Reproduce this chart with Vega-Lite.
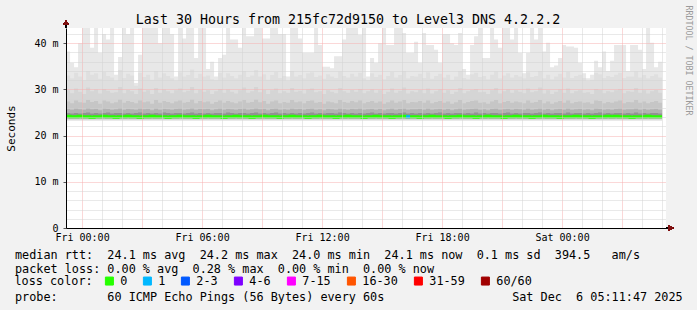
{
  "$schema": "https://vega.github.io/schema/vega-lite/v6.json",
  "width": 600,
  "height": 200,
  "autosize": {"type": "none"},
  "padding": {"left": 66, "top": 28, "right": 31, "bottom": 82},
  "background": "#f2f2f2",
  "title": {"text": "Last 30 Hours from 215fc72d9150 to Level3 DNS 4.2.2.2", "font": "DejaVu Sans Mono", "fontSize": 13.3, "fontWeight": "normal", "color": "#000000", "anchor": "middle", "frame": "group", "dx": -18, "dy": 21, "offset": 0},
  "config": {"view": {"fill": "#ffffff", "stroke": null}, "font": "DejaVu Sans Mono"},
  "data": {"values": [
    {"t":"2025-12-04T23:12Z","m":24.2,"a":24.9,"b":25.8,"c":27.4,"d":29.8,"e":33.0,"x":38.2},
    {"t":"2025-12-04T23:24Z","m":24.1,"a":24.8,"b":25.6,"c":27.0,"d":29.2,"e":32.4,"x":35.7},
    {"t":"2025-12-04T23:36Z","m":24.1,"a":24.9,"b":25.9,"c":27.6,"d":30.2,"e":33.6,"x":34.8},
    {"t":"2025-12-04T23:48Z","m":24.2,"a":24.8,"b":25.7,"c":27.2,"d":29.5,"e":32.8,"x":40},
    {"t":"2025-12-05T00:00Z","m":24.1,"a":24.9,"b":25.6,"c":27.1,"d":29.0,"e":32.0,"x":45},
    {"t":"2025-12-05T00:12Z","m":24.1,"a":25.0,"b":26.0,"c":27.7,"d":30.4,"e":34.0,"x":45},
    {"t":"2025-12-05T00:24Z","m":24.0,"a":24.8,"b":25.7,"c":27.3,"d":29.6,"e":33.2,"x":39.0},
    {"t":"2025-12-05T00:36Z","m":24.1,"a":24.9,"b":25.8,"c":27.5,"d":30.0,"e":33.5,"x":45},
    {"t":"2025-12-05T00:48Z","m":24.1,"a":24.8,"b":25.5,"c":26.9,"d":29.1,"e":32.3,"x":37.9},
    {"t":"2025-12-05T01:00Z","m":24.2,"a":24.9,"b":25.9,"c":27.6,"d":30.1,"e":33.8,"x":42},
    {"t":"2025-12-05T01:12Z","m":24.1,"a":25.0,"b":25.8,"c":27.4,"d":29.7,"e":32.9,"x":40.8},
    {"t":"2025-12-05T01:24Z","m":24.1,"a":24.8,"b":25.6,"c":27.0,"d":29.3,"e":32.6,"x":45},
    {"t":"2025-12-05T01:36Z","m":24.0,"a":24.9,"b":25.7,"c":27.2,"d":29.4,"e":31.8,"x":33.2},
    {"t":"2025-12-05T01:48Z","m":24.1,"a":24.9,"b":26.0,"c":27.8,"d":30.5,"e":34.2,"x":37},
    {"t":"2025-12-05T02:00Z","m":24.1,"a":24.8,"b":25.6,"c":27.1,"d":29.2,"e":32.5,"x":45},
    {"t":"2025-12-05T02:12Z","m":24.2,"a":24.9,"b":25.8,"c":27.5,"d":29.9,"e":33.4,"x":42},
    {"t":"2025-12-05T02:24Z","m":24.1,"a":24.8,"b":25.7,"c":27.3,"d":29.6,"e":33.0,"x":45},
    {"t":"2025-12-05T02:36Z","m":24.1,"a":24.9,"b":25.6,"c":27.0,"d":29.0,"e":30.8,"x":31.4},
    {"t":"2025-12-05T02:48Z","m":24.0,"a":25.0,"b":25.9,"c":27.6,"d":30.2,"e":33.6,"x":37.5},
    {"t":"2025-12-05T03:00Z","m":24.1,"a":24.8,"b":25.7,"c":27.2,"d":29.5,"e":32.7,"x":45},
    {"t":"2025-12-05T03:12Z","m":24.1,"a":24.9,"b":25.8,"c":27.4,"d":29.8,"e":33.2,"x":45},
    {"t":"2025-12-05T03:24Z","m":24.2,"a":24.8,"b":25.5,"c":26.9,"d":29.0,"e":32.1,"x":44},
    {"t":"2025-12-05T03:36Z","m":24.1,"a":24.9,"b":25.9,"c":27.7,"d":30.3,"e":34.0,"x":45},
    {"t":"2025-12-05T03:48Z","m":24.1,"a":24.8,"b":25.6,"c":27.1,"d":29.3,"e":32.6,"x":40},
    {"t":"2025-12-05T04:00Z","m":24.1,"a":25.0,"b":25.8,"c":27.5,"d":30.0,"e":33.5,"x":45},
    {"t":"2025-12-05T04:12Z","m":24.0,"a":24.9,"b":25.7,"c":27.3,"d":29.6,"e":32.9,"x":45},
    {"t":"2025-12-05T04:24Z","m":24.1,"a":24.8,"b":25.6,"c":27.0,"d":29.2,"e":32.4,"x":42},
    {"t":"2025-12-05T04:36Z","m":24.1,"a":24.9,"b":25.8,"c":27.4,"d":29.8,"e":31.9,"x":32.8},
    {"t":"2025-12-05T04:48Z","m":24.2,"a":24.9,"b":25.9,"c":27.6,"d":30.2,"e":33.7,"x":45},
    {"t":"2025-12-05T05:00Z","m":24.1,"a":24.8,"b":25.6,"c":27.1,"d":29.4,"e":32.8,"x":41},
    {"t":"2025-12-05T05:12Z","m":24.1,"a":24.9,"b":25.7,"c":27.3,"d":29.7,"e":33.1,"x":45},
    {"t":"2025-12-05T05:24Z","m":24.1,"a":25.0,"b":26.0,"c":27.8,"d":30.5,"e":34.3,"x":45},
    {"t":"2025-12-05T05:36Z","m":24.0,"a":24.8,"b":25.6,"c":27.0,"d":29.2,"e":32.5,"x":36.8},
    {"t":"2025-12-05T05:48Z","m":24.1,"a":24.9,"b":25.8,"c":27.5,"d":29.9,"e":33.4,"x":45},
    {"t":"2025-12-05T06:00Z","m":24.1,"a":24.8,"b":25.7,"c":27.2,"d":29.5,"e":32.8,"x":45},
    {"t":"2025-12-05T06:12Z","m":24.2,"a":24.9,"b":25.8,"c":27.4,"d":29.8,"e":33.0,"x":34.4},
    {"t":"2025-12-05T06:24Z","m":24.1,"a":24.8,"b":25.5,"c":26.9,"d":29.0,"e":32.2,"x":36},
    {"t":"2025-12-05T06:36Z","m":24.1,"a":24.9,"b":25.7,"c":27.3,"d":29.6,"e":32.0,"x":32.8},
    {"t":"2025-12-05T06:48Z","m":24.1,"a":24.9,"b":25.9,"c":27.6,"d":30.1,"e":33.6,"x":36.8},
    {"t":"2025-12-05T07:00Z","m":24.0,"a":24.8,"b":25.6,"c":27.1,"d":29.3,"e":32.6,"x":37.5},
    {"t":"2025-12-05T07:12Z","m":24.1,"a":25.0,"b":25.8,"c":27.5,"d":30.0,"e":33.5,"x":45},
    {"t":"2025-12-05T07:24Z","m":24.1,"a":24.9,"b":25.7,"c":27.2,"d":29.5,"e":32.9,"x":40.8},
    {"t":"2025-12-05T07:36Z","m":24.2,"a":24.8,"b":25.6,"c":27.0,"d":29.1,"e":32.4,"x":40.8},
    {"t":"2025-12-05T07:48Z","m":24.1,"a":24.9,"b":25.8,"c":27.4,"d":29.8,"e":33.2,"x":39},
    {"t":"2025-12-05T08:00Z","m":24.1,"a":24.9,"b":25.9,"c":27.7,"d":30.4,"e":34.0,"x":45},
    {"t":"2025-12-05T08:12Z","m":24.1,"a":24.8,"b":25.6,"c":27.1,"d":29.3,"e":32.7,"x":41.5},
    {"t":"2025-12-05T08:24Z","m":24.0,"a":24.9,"b":25.7,"c":27.3,"d":29.6,"e":33.0,"x":41.5},
    {"t":"2025-12-05T08:36Z","m":24.1,"a":25.0,"b":26.0,"c":27.8,"d":30.5,"e":34.2,"x":45},
    {"t":"2025-12-05T08:48Z","m":24.1,"a":24.8,"b":25.7,"c":27.2,"d":29.4,"e":32.8,"x":45},
    {"t":"2025-12-05T09:00Z","m":24.2,"a":24.9,"b":25.8,"c":27.5,"d":29.9,"e":33.3,"x":41},
    {"t":"2025-12-05T09:12Z","m":24.1,"a":24.8,"b":25.5,"c":26.9,"d":29.0,"e":32.1,"x":41},
    {"t":"2025-12-05T09:24Z","m":24.1,"a":24.9,"b":25.8,"c":27.4,"d":29.8,"e":33.1,"x":45},
    {"t":"2025-12-05T09:36Z","m":24.1,"a":25.0,"b":25.9,"c":27.6,"d":30.2,"e":33.8,"x":45},
    {"t":"2025-12-05T09:48Z","m":24.0,"a":24.8,"b":25.6,"c":27.0,"d":29.2,"e":32.5,"x":42},
    {"t":"2025-12-05T10:00Z","m":24.1,"a":24.9,"b":25.7,"c":27.3,"d":29.6,"e":32.9,"x":42},
    {"t":"2025-12-05T10:12Z","m":24.1,"a":24.8,"b":25.6,"c":27.1,"d":29.3,"e":31.9,"x":32.8},
    {"t":"2025-12-05T10:24Z","m":24.2,"a":24.9,"b":25.9,"c":27.7,"d":30.3,"e":34.0,"x":45},
    {"t":"2025-12-05T10:36Z","m":24.1,"a":24.8,"b":25.7,"c":27.2,"d":29.5,"e":32.8,"x":45},
    {"t":"2025-12-05T10:48Z","m":24.1,"a":24.9,"b":25.8,"c":27.4,"d":29.7,"e":33.1,"x":41},
    {"t":"2025-12-05T11:00Z","m":24.1,"a":24.8,"b":25.6,"c":27.0,"d":29.1,"e":32.4,"x":37.9},
    {"t":"2025-12-05T11:12Z","m":24.0,"a":24.9,"b":25.8,"c":27.5,"d":30.0,"e":33.5,"x":37.9},
    {"t":"2025-12-05T11:24Z","m":24.1,"a":25.0,"b":25.9,"c":27.6,"d":30.2,"e":33.7,"x":37.9},
    {"t":"2025-12-05T11:36Z","m":24.1,"a":24.8,"b":25.6,"c":27.1,"d":29.4,"e":32.7,"x":45},
    {"t":"2025-12-05T11:48Z","m":24.2,"a":24.9,"b":25.7,"c":27.3,"d":29.6,"e":33.0,"x":39.6},
    {"t":"2025-12-05T12:00Z","m":24.1,"a":24.8,"b":25.5,"c":26.9,"d":29.0,"e":32.3,"x":34.9},
    {"t":"2025-12-05T12:12Z","m":24.1,"a":24.9,"b":25.8,"c":27.4,"d":29.8,"e":33.3,"x":34.9},
    {"t":"2025-12-05T12:24Z","m":24.1,"a":24.9,"b":25.7,"c":27.2,"d":29.5,"e":32.8,"x":34.6},
    {"t":"2025-12-05T12:36Z","m":24.0,"a":24.8,"b":25.6,"c":27.0,"d":29.2,"e":32.5,"x":37.2},
    {"t":"2025-12-05T12:48Z","m":24.1,"a":25.0,"b":25.9,"c":27.7,"d":30.3,"e":33.9,"x":37.2},
    {"t":"2025-12-05T13:00Z","m":24.1,"a":24.9,"b":25.7,"c":27.3,"d":29.6,"e":32.9,"x":40.8},
    {"t":"2025-12-05T13:12Z","m":24.2,"a":24.8,"b":25.6,"c":27.1,"d":29.3,"e":32.6,"x":45},
    {"t":"2025-12-05T13:24Z","m":24.1,"a":24.9,"b":25.8,"c":27.5,"d":29.9,"e":33.4,"x":45},
    {"t":"2025-12-05T13:36Z","m":24.1,"a":24.8,"b":25.7,"c":27.2,"d":29.5,"e":32.8,"x":45},
    {"t":"2025-12-05T13:48Z","m":24.1,"a":24.9,"b":25.9,"c":27.6,"d":30.1,"e":33.6,"x":41.8},
    {"t":"2025-12-05T14:00Z","m":24.0,"a":24.8,"b":25.6,"c":27.0,"d":29.2,"e":32.4,"x":45},
    {"t":"2025-12-05T14:12Z","m":24.1,"a":24.9,"b":25.7,"c":27.3,"d":29.6,"e":32.0,"x":32.8},
    {"t":"2025-12-05T14:24Z","m":24.1,"a":25.0,"b":25.8,"c":27.5,"d":30.0,"e":33.5,"x":36.8},
    {"t":"2025-12-05T14:36Z","m":24.2,"a":24.8,"b":25.6,"c":27.1,"d":29.3,"e":32.7,"x":35.7},
    {"t":"2025-12-05T14:48Z","m":24.1,"a":24.9,"b":25.8,"c":27.4,"d":29.8,"e":33.2,"x":40},
    {"t":"2025-12-05T15:00Z","m":24.1,"a":24.8,"b":25.5,"c":26.9,"d":29.0,"e":32.2,"x":45},
    {"t":"2025-12-05T15:12Z","m":24.1,"a":24.9,"b":25.7,"c":27.2,"d":29.5,"e":32.9,"x":39.6},
    {"t":"2025-12-05T15:24Z","m":24.0,"a":24.9,"b":25.9,"c":27.6,"d":30.2,"e":33.8,"x":39.6},
    {"t":"2025-12-05T15:36Z","m":24.1,"a":24.8,"b":25.6,"c":27.1,"d":29.3,"e":32.6,"x":45},
    {"t":"2025-12-05T15:48Z","m":24.1,"a":24.9,"b":25.8,"c":27.4,"d":29.7,"e":33.1,"x":45},
    {"t":"2025-12-05T16:00Z","m":24.2,"a":25.0,"b":25.9,"c":27.7,"d":30.4,"e":34.0,"x":42.2},
    {"t":"2025-12-05T16:12Z","m":24.1,"a":24.8,"b":25.6,"c":27.0,"d":29.1,"e":32.4,"x":37.9},
    {"t":"2025-12-05T16:24Z","m":24.1,"a":24.9,"b":25.7,"c":27.3,"d":29.6,"e":32.9,"x":37.9},
    {"t":"2025-12-05T16:36Z","m":24.1,"a":24.8,"b":25.7,"c":27.2,"d":29.4,"e":32.8,"x":40.3},
    {"t":"2025-12-05T16:48Z","m":24.0,"a":24.9,"b":25.8,"c":27.5,"d":29.9,"e":33.4,"x":35.7},
    {"t":"2025-12-05T17:00Z","m":24.1,"a":24.8,"b":25.6,"c":27.1,"d":29.2,"e":32.5,"x":42.2},
    {"t":"2025-12-05T17:12Z","m":24.1,"a":24.9,"b":25.9,"c":27.6,"d":30.2,"e":33.7,"x":39.6},
    {"t":"2025-12-05T17:24Z","m":24.2,"a":24.8,"b":25.6,"c":27.0,"d":29.1,"e":32.3,"x":39.6},
    {"t":"2025-12-05T17:36Z","m":24.1,"a":24.9,"b":25.7,"c":27.3,"d":29.6,"e":32.9,"x":38.6},
    {"t":"2025-12-05T17:48Z","m":24.1,"a":25.0,"b":25.8,"c":27.5,"d":30.0,"e":33.4,"x":35.7},
    {"t":"2025-12-05T18:00Z","m":24.1,"a":24.8,"b":25.6,"c":27.1,"d":29.3,"e":32.6,"x":42},
    {"t":"2025-12-05T18:12Z","m":24.0,"a":24.9,"b":25.8,"c":27.4,"d":29.8,"e":33.2,"x":42},
    {"t":"2025-12-05T18:24Z","m":24.1,"a":24.8,"b":25.5,"c":26.9,"d":29.0,"e":32.1,"x":40},
    {"t":"2025-12-05T18:36Z","m":24.1,"a":24.9,"b":25.7,"c":27.2,"d":29.5,"e":32.8,"x":39.6},
    {"t":"2025-12-05T18:48Z","m":24.2,"a":24.9,"b":25.9,"c":27.7,"d":30.3,"e":34.0,"x":42.2},
    {"t":"2025-12-05T19:00Z","m":24.1,"a":24.8,"b":25.6,"c":27.0,"d":29.2,"e":32.5,"x":34.4},
    {"t":"2025-12-05T19:12Z","m":24.1,"a":24.9,"b":25.7,"c":27.3,"d":29.6,"e":32.2,"x":33.2},
    {"t":"2025-12-05T19:24Z","m":24.1,"a":24.8,"b":25.8,"c":27.5,"d":29.9,"e":33.3,"x":39.6},
    {"t":"2025-12-05T19:36Z","m":24.0,"a":25.0,"b":25.9,"c":27.6,"d":30.1,"e":33.6,"x":41.5},
    {"t":"2025-12-05T19:48Z","m":24.1,"a":24.8,"b":25.6,"c":27.1,"d":29.4,"e":32.7,"x":45},
    {"t":"2025-12-05T20:00Z","m":24.1,"a":24.9,"b":25.7,"c":27.2,"d":29.5,"e":32.9,"x":36.8},
    {"t":"2025-12-05T20:12Z","m":24.2,"a":24.8,"b":25.5,"c":26.9,"d":29.0,"e":32.2,"x":36.8},
    {"t":"2025-12-05T20:24Z","m":24.1,"a":24.9,"b":25.8,"c":27.4,"d":29.8,"e":33.2,"x":45},
    {"t":"2025-12-05T20:36Z","m":24.1,"a":24.9,"b":25.9,"c":27.7,"d":30.3,"e":33.9,"x":40.8},
    {"t":"2025-12-05T20:48Z","m":24.1,"a":24.8,"b":25.6,"c":27.0,"d":29.1,"e":32.4,"x":39},
    {"t":"2025-12-05T21:00Z","m":24.0,"a":24.9,"b":25.7,"c":27.3,"d":29.6,"e":33.0,"x":44},
    {"t":"2025-12-05T21:12Z","m":24.1,"a":25.0,"b":25.8,"c":27.5,"d":30.0,"e":33.5,"x":44},
    {"t":"2025-12-05T21:24Z","m":24.1,"a":24.8,"b":25.6,"c":27.1,"d":29.3,"e":32.6,"x":40.8},
    {"t":"2025-12-05T21:36Z","m":24.2,"a":24.9,"b":25.8,"c":27.4,"d":29.8,"e":33.1,"x":45},
    {"t":"2025-12-05T21:48Z","m":24.1,"a":24.8,"b":25.7,"c":27.2,"d":29.5,"e":32.8,"x":37.9},
    {"t":"2025-12-05T22:00Z","m":24.1,"a":24.9,"b":25.6,"c":27.0,"d":29.2,"e":32.4,"x":33.5},
    {"t":"2025-12-05T22:12Z","m":24.1,"a":24.9,"b":25.9,"c":27.6,"d":30.2,"e":33.7,"x":37.9},
    {"t":"2025-12-05T22:24Z","m":24.0,"a":24.8,"b":25.6,"c":27.1,"d":29.4,"e":32.7,"x":45},
    {"t":"2025-12-05T22:36Z","m":24.1,"a":24.9,"b":25.7,"c":27.3,"d":29.6,"e":32.9,"x":40.8},
    {"t":"2025-12-05T22:48Z","m":24.1,"a":25.0,"b":25.9,"c":27.7,"d":30.4,"e":34.0,"x":44.5},
    {"t":"2025-12-05T23:00Z","m":24.2,"a":24.8,"b":25.6,"c":27.0,"d":29.1,"e":32.4,"x":38.2},
    {"t":"2025-12-05T23:12Z","m":24.1,"a":24.9,"b":25.8,"c":27.4,"d":29.8,"e":33.2,"x":40.1},
    {"t":"2025-12-05T23:24Z","m":24.1,"a":24.8,"b":25.5,"c":26.9,"d":29.0,"e":32.2,"x":34.8},
    {"t":"2025-12-05T23:36Z","m":24.1,"a":24.9,"b":25.7,"c":27.2,"d":29.5,"e":32.8,"x":35.2},
    {"t":"2025-12-05T23:48Z","m":24.0,"a":24.9,"b":25.8,"c":27.5,"d":30.0,"e":33.4,"x":36.8},
    {"t":"2025-12-06T00:00Z","m":24.1,"a":24.8,"b":25.6,"c":27.1,"d":29.3,"e":32.6,"x":39.6},
    {"t":"2025-12-06T00:12Z","m":24.1,"a":25.0,"b":25.9,"c":27.6,"d":30.2,"e":33.8,"x":39.3},
    {"t":"2025-12-06T00:24Z","m":24.1,"a":24.8,"b":25.6,"c":27.0,"d":29.2,"e":32.5,"x":39.3},
    {"t":"2025-12-06T00:36Z","m":24.2,"a":24.9,"b":25.7,"c":27.3,"d":29.6,"e":32.9,"x":39},
    {"t":"2025-12-06T00:48Z","m":24.1,"a":24.9,"b":25.8,"c":27.4,"d":29.8,"e":33.2,"x":35.7},
    {"t":"2025-12-06T01:00Z","m":24.1,"a":24.8,"b":25.6,"c":27.1,"d":29.3,"e":32.5,"x":33.5},
    {"t":"2025-12-06T01:12Z","m":24.1,"a":24.9,"b":25.7,"c":27.2,"d":29.4,"e":31.8,"x":32.4},
    {"t":"2025-12-06T01:24Z","m":24.0,"a":24.8,"b":25.5,"c":26.9,"d":29.0,"e":32.1,"x":33.2},
    {"t":"2025-12-06T01:36Z","m":24.1,"a":24.9,"b":25.9,"c":27.6,"d":30.1,"e":33.6,"x":36.2},
    {"t":"2025-12-06T01:48Z","m":24.1,"a":25.0,"b":25.8,"c":27.5,"d":29.9,"e":33.3,"x":34.8},
    {"t":"2025-12-06T02:00Z","m":24.1,"a":24.8,"b":25.6,"c":27.0,"d":29.2,"e":32.5,"x":38.2},
    {"t":"2025-12-06T02:12Z","m":24.2,"a":24.9,"b":25.7,"c":27.3,"d":29.6,"e":32.9,"x":34.0},
    {"t":"2025-12-06T02:24Z","m":24.1,"a":24.8,"b":25.6,"c":27.1,"d":29.4,"e":32.7,"x":36.2},
    {"t":"2025-12-06T02:36Z","m":24.2,"a":24.9,"b":25.8,"c":27.4,"d":29.8,"e":33.2,"x":39.6},
    {"t":"2025-12-06T02:48Z","m":24.1,"a":24.9,"b":25.9,"c":27.6,"d":30.1,"e":33.6,"x":39.6},
    {"t":"2025-12-06T03:00Z","m":24.1,"a":24.8,"b":25.6,"c":27.0,"d":29.2,"e":32.5,"x":39.6},
    {"t":"2025-12-06T03:12Z","m":24.1,"a":24.9,"b":25.7,"c":27.3,"d":29.6,"e":32.8,"x":34.0},
    {"t":"2025-12-06T03:24Z","m":24.0,"a":24.8,"b":25.7,"c":27.2,"d":29.5,"e":32.8,"x":39.6},
    {"t":"2025-12-06T03:36Z","m":24.1,"a":25.0,"b":25.9,"c":27.7,"d":30.3,"e":33.9,"x":39.6},
    {"t":"2025-12-06T03:48Z","m":24.1,"a":24.8,"b":25.6,"c":27.1,"d":29.3,"e":32.6,"x":38.6},
    {"t":"2025-12-06T04:00Z","m":24.1,"a":24.9,"b":25.8,"c":27.4,"d":29.8,"e":33.1,"x":34.4},
    {"t":"2025-12-06T04:12Z","m":24.2,"a":24.8,"b":25.6,"c":27.0,"d":29.1,"e":32.4,"x":45},
    {"t":"2025-12-06T04:24Z","m":24.1,"a":24.9,"b":25.7,"c":27.3,"d":29.6,"e":32.9,"x":40.1},
    {"t":"2025-12-06T04:36Z","m":24.1,"a":24.9,"b":25.8,"c":27.5,"d":29.9,"e":33.3,"x":34.8},
    {"t":"2025-12-06T04:48Z","m":24.1,"a":24.8,"b":25.6,"c":27.1,"d":29.3,"e":32.6,"x":36},
    {"t":"2025-12-06T05:00Z","m":24.1,"a":24.8,"b":25.6,"c":27.1,"d":29.3,"e":32.6,"x":36}
  ]},
  "layer": [
    {"mark": {"type": "area", "interpolate": "step-after", "clip": true, "color": "#e8e8e8"},
     "encoding": {
       "x": {
         "field": "t", "type": "temporal",
         "scale": {"type": "utc", "domain": [{"year": 2025, "month": 12, "date": 4, "hours": 23, "minutes": 11, "seconds": 47, "utc": true}, {"year": 2025, "month": 12, "date": 6, "hours": 5, "minutes": 11, "seconds": 47, "utc": true}]},
         "axis": {
           "orient": "bottom",
           "title": null,
           "values": [1764892800000, 1764896400000, 1764900000000, 1764903600000, 1764907200000, 1764910800000, 1764914400000, 1764918000000, 1764921600000, 1764925200000, 1764928800000, 1764932400000, 1764936000000, 1764939600000, 1764943200000, 1764946800000, 1764950400000, 1764954000000, 1764957600000, 1764961200000, 1764964800000, 1764968400000, 1764972000000, 1764975600000, 1764979200000, 1764982800000, 1764986400000, 1764990000000, 1764993600000, 1764997200000],
           "labelExpr": "utchours(datum.value) % 6 == 0 ? utcFormat(datum.value, '%a %H:%M') : ''",
           "labelFont": "DejaVu Sans Mono", "labelFontSize": 10, "labelColor": "#000000", "labelPadding": 4, "labelOverlap": false, "labelFlush": false, "labelBound": false,
           "ticks": false,
           "grid": true,
           "gridColor": {"condition": {"test": "utchours(datum.value) % 3 == 0", "value": "#f6b0b0"}, "value": "#d2d2d2"},
           "gridDash": [1, 1], "gridWidth": 1, "gridOpacity": 1,
           "domain": true, "domainColor": "#000000", "domainWidth": 1,
           "zindex": 1
         }
       },
       "y": {"field": "x", "type": "quantitative", "scale": {"domain": [0, 43.3], "nice": false, "zero": false},
         "axis": {
           "title": "Seconds", "titleFont": "DejaVu Sans Mono", "titleFontSize": 11, "titleFontWeight": "normal", "titleColor": "#000000",
           "titleAngle": -90, "titleX": -55, "titleY": 100, "titleAlign": "center", "titleBaseline": "middle",
           "values": [0, 2, 4, 6, 8, 10, 12, 14, 16, 18, 20, 22, 24, 26, 28, 30, 32, 34, 36, 38, 40, 42],
           "labelExpr": "datum.value % 10 == 0 ? (datum.value == 0 ? '0' : datum.value + ' m') : ''",
           "labelFont": "DejaVu Sans Mono", "labelFontSize": 10, "labelColor": "#000000", "labelPadding": 5, "labelOverlap": false, "labelFlush": false, "labelBound": false,
           "ticks": true, "tickSize": 3,
           "tickColor": {"condition": {"test": "datum.value % 10 == 0", "value": "#555555"}, "value": "rgba(0,0,0,0)"},
           "grid": true,
           "gridColor": {"condition": {"test": "datum.value % 10 == 0", "value": "#f6b0b0"}, "value": "#d2d2d2"},
           "gridDash": [1, 1], "gridWidth": 1, "gridOpacity": 1,
           "domain": true, "domainColor": "#000000", "domainWidth": 1,
           "zindex": 1
         }},
       "y2": {"datum": 23.2}
     }},
    {"mark": {"type": "area", "interpolate": "step-after", "clip": true, "color": "#dfdfdf"},
     "encoding": {
       "x": {"field": "t", "type": "temporal",
         "axis": {"orient": "bottom", "labels": false, "ticks": false, "domain": false, "grid": false,
           "title": ["median rtt:\u00a0\u00a024.1 ms avg\u00a0\u00a024.2 ms max\u00a0\u00a024.0 ms min\u00a0\u00a024.1 ms now\u00a0\u00a00.1 ms sd\u00a0\u00a0394.5\u00a0\u00a0\u00a0am/s", "packet loss: 0.00 % avg\u00a0\u00a00.28 % max\u00a0\u00a00.00 % min\u00a0\u00a00.00 % now", "\u200b", "probe:\u00a0\u00a0\u00a0\u00a0\u00a0\u00a0\u00a060 ICMP Echo Pings (56 Bytes) every 60s\u00a0\u00a0\u00a0\u00a0\u00a0\u00a0\u00a0\u00a0\u00a0\u00a0\u00a0\u00a0\u00a0\u00a0\u00a0\u00a0\u00a0\u00a0Sat Dec\u00a0\u00a06 05:11:47 2025"],
           "titleFont": "DejaVu Sans Mono", "titleFontSize": 11.8, "titleFontWeight": "normal", "titleColor": "#000000",
           "titleAnchor": "start", "titleAlign": "left", "titleBaseline": "alphabetic", "titleX": -51.5, "titleY": 30, "titleLineHeight": 14}},
       "y": {"field": "e", "type": "quantitative", "scale": {"domain": [0, 43.3], "nice": false, "zero": false},
         "axis": {"orient": "right", "labels": false, "ticks": false, "domain": false, "grid": false,
           "title": "RRDTOOL / TOBI OETIKER", "titleAngle": 90, "titleFont": "DejaVu Sans Mono", "titleFontSize": 8.3, "titleFontWeight": "normal", "titleColor": "#9a9a9a",
           "titleX": 21.5, "titleY": 32, "titleAlign": "center", "titleBaseline": "middle"}},
       "y2": {"datum": 23.35}
     }},
    {"mark": {"type": "area", "interpolate": "step-after", "clip": true, "color": "#d5d5d5"},
     "encoding": {"x": {"field": "t", "type": "temporal", "axis": null}, "y": {"field": "d", "type": "quantitative", "scale": {"domain": [0, 43.3], "nice": false, "zero": false}, "axis": null}, "y2": {"datum": 23.5}}},
    {"mark": {"type": "area", "interpolate": "step-after", "clip": true, "color": "#c6c6c6"},
     "encoding": {"x": {"field": "t", "type": "temporal", "axis": null}, "y": {"field": "c", "type": "quantitative", "scale": {"domain": [0, 43.3], "nice": false, "zero": false}, "axis": null}, "y2": {"datum": 23.6}}},
    {"mark": {"type": "area", "interpolate": "step-after", "clip": true, "color": "#b2b2b2"},
     "encoding": {"x": {"field": "t", "type": "temporal", "axis": null}, "y": {"field": "b", "type": "quantitative", "scale": {"domain": [0, 43.3], "nice": false, "zero": false}, "axis": null}, "y2": {"datum": 23.7}}},
    {"mark": {"type": "area", "interpolate": "step-after", "clip": true, "color": "#929292"},
     "encoding": {"x": {"field": "t", "type": "temporal", "axis": null}, "y": {"field": "a", "type": "quantitative", "scale": {"domain": [0, 43.3], "nice": false, "zero": false}, "axis": null}, "y2": {"datum": 23.8}}},
    {"mark": {"type": "line", "interpolate": "step-after", "strokeWidth": 3, "strokeCap": "butt"},
     "encoding": {
       "x": {"field": "t", "type": "temporal", "axis": null},
       "y": {"field": "m", "type": "quantitative", "scale": {"domain": [0, 43.3], "nice": false, "zero": false}, "axis": null},
       "color": {"datum": "0", "type": "nominal", "title": "loss color:",
         "scale": {"domain": ["0", "1", "2-3", "4-6", "7-15", "16-30", "31-59", "60/60"], "range": ["#26ff00", "#00b8ff", "#0059ff", "#7e00ff", "#ff00ff", "#ff5500", "#ff0000", "#a10000"]},
         "legend": {"orient": "none", "legendX": -51.5, "legendY": 247, "direction": "horizontal", "columns": 8,
           "titleOrient": "left", "titleFont": "DejaVu Sans Mono", "titleFontSize": 11.8, "titleFontWeight": "normal", "titleColor": "#000000", "titlePadding": 10,
           "labelFont": "DejaVu Sans Mono", "labelFontSize": 11.8, "labelColor": "#000000", "labelOffset": 5,
           "symbolType": "square", "symbolSize": 64, "symbolStrokeColor": "#000000", "symbolStrokeWidth": 1,
           "columnPadding": 13, "rowPadding": 0, "padding": 0,
           "encode": {"symbols": {"update": {"fill": {"scale": "color", "field": "value"}, "stroke": {"value": "#000000"}, "strokeWidth": {"value": 1}, "opacity": {"value": 1}}}}}
       }
     }},
    {"data": {"values": [
       {"t": "2025-12-05T16:12Z", "m": 24.1, "loss": "1"},
       {"t": "2025-12-05T16:24Z", "m": 24.1, "loss": "1"}
     ]},
     "mark": {"type": "line", "interpolate": "step-after", "strokeWidth": 3, "strokeCap": "butt"},
     "encoding": {
       "x": {"field": "t", "type": "temporal", "axis": null},
       "y": {"field": "m", "type": "quantitative", "scale": {"domain": [0, 43.3], "nice": false, "zero": false}, "axis": null},
       "color": {"field": "loss", "type": "nominal", "title": "loss color:",
         "scale": {"domain": ["0", "1", "2-3", "4-6", "7-15", "16-30", "31-59", "60/60"], "range": ["#26ff00", "#00b8ff", "#0059ff", "#7e00ff", "#ff00ff", "#ff5500", "#ff0000", "#a10000"]},
         "legend": {"orient": "none", "legendX": -51.5, "legendY": 247, "direction": "horizontal", "columns": 8,
           "titleOrient": "left", "titleFont": "DejaVu Sans Mono", "titleFontSize": 11.8, "titleFontWeight": "normal", "titleColor": "#000000", "titlePadding": 10,
           "labelFont": "DejaVu Sans Mono", "labelFontSize": 11.8, "labelColor": "#000000", "labelOffset": 5,
           "symbolType": "square", "symbolSize": 64, "symbolStrokeColor": "#000000", "symbolStrokeWidth": 1,
           "columnPadding": 13, "rowPadding": 0, "padding": 0,
           "encode": {"symbols": {"update": {"fill": {"scale": "color", "field": "value"}, "stroke": {"value": "#000000"}, "strokeWidth": {"value": 1}, "opacity": {"value": 1}}}}}
       }
     }},
    {"mark": {"type": "rule", "color": "#000000", "strokeWidth": 1},
     "encoding": {
       "x": {"datum": {"year": 2025, "month": 12, "date": 4, "hours": 23, "minutes": 11, "seconds": 47, "utc": true}, "type": "temporal", "axis": null},
       "y": {"datum": 43.3, "type": "quantitative", "scale": {"domain": [0, 43.3], "nice": false, "zero": false}, "axis": null},
       "y2": {"datum": 44.4}
     }},
    {"mark": {"type": "rule", "color": "#000000", "strokeWidth": 1},
     "encoding": {
       "x": {"datum": {"year": 2025, "month": 12, "date": 6, "hours": 5, "minutes": 11, "seconds": 47, "utc": true}, "type": "temporal", "axis": null},
       "x2": {"datum": {"year": 2025, "month": 12, "date": 6, "hours": 5, "minutes": 24, "seconds": 0, "utc": true}},
       "y": {"datum": 0, "type": "quantitative", "scale": {"domain": [0, 43.3], "nice": false, "zero": false}, "axis": null}
     }},
    {"mark": {"type": "point", "shape": "triangle-up", "filled": true, "size": 30, "color": "#7f1010", "opacity": 1},
     "encoding": {
       "x": {"datum": {"year": 2025, "month": 12, "date": 4, "hours": 23, "minutes": 11, "seconds": 47, "utc": true}, "type": "temporal", "axis": null},
       "y": {"datum": 44.45, "type": "quantitative", "scale": {"domain": [0, 43.3], "nice": false, "zero": false}, "axis": null}
     }},
    {"mark": {"type": "point", "shape": "triangle-right", "filled": true, "size": 30, "color": "#7f1010", "opacity": 1},
     "encoding": {
       "x": {"datum": {"year": 2025, "month": 12, "date": 6, "hours": 5, "minutes": 27, "seconds": 0, "utc": true}, "type": "temporal", "axis": null},
       "y": {"datum": 0, "type": "quantitative", "scale": {"domain": [0, 43.3], "nice": false, "zero": false}, "axis": null}
     }}
  ],
  "resolve": {"axis": {"x": "independent", "y": "independent"}}
}
